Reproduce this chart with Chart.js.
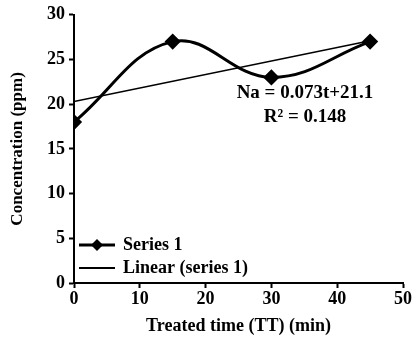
<!DOCTYPE html>
<html>
<head>
<meta charset="utf-8">
<script src="https://cdn.jsdelivr.net/npm/chart.js@4"></script>
<style>
  html, body { margin: 0; padding: 0; background: #fff; }
  #wrap { width: 413px; height: 345px; }
</style>
</head>
<body>
<div id="wrap"><canvas id="chart" width="413" height="345"></canvas></div>
<script>
// data
var timeMin = [0, 15, 30, 45];
var concentration = [18, 27, 23, 27];
var trendTime = [0, 45];
var trendConc = [20.3, 27.1];
var xTicks = [0, 10, 20, 30, 40, 50];
var yTicks = [0, 5, 10, 15, 20, 25, 30];
var eqLines = ["Na = 0.073t+21.1", "R\u00b2 = 0.148"];
var legendLabels = ["Series 1", "Linear (series 1)"];

var serif = "'Liberation Serif', 'Times New Roman', serif";

function toPoints(xs, ys) {
  return xs.map(function (x, i) {
    return { x: x, y: ys[i] };
  });
}

// draws the equation and the legend inside the plot
var extras = {
  id: "extras",
  afterDraw: function (chart) {
    var ctx = chart.ctx;
    var xs = chart.scales.x;
    ctx.save();
    ctx.fillStyle = "#000";
    ctx.font = "bold 19px " + serif;
    ctx.textAlign = "center";
    ctx.textBaseline = "middle";
    ctx.fillText(eqLines[0], 305, 93);
    ctx.fillText(eqLines[1], 305, 117);

    // legend
    var lx0 = xs.left + 5, lx1 = xs.left + 41;
    var ly = [245, 268];
    ctx.strokeStyle = "#000";
    ctx.lineWidth = 3;
    ctx.beginPath();
    ctx.moveTo(lx0, ly[0]);
    ctx.lineTo(lx1, ly[0]);
    ctx.stroke();
    var cx = (lx0 + lx1) / 2;
    ctx.beginPath();
    ctx.moveTo(cx, ly[0] - 6);
    ctx.lineTo(cx + 6, ly[0]);
    ctx.lineTo(cx, ly[0] + 6);
    ctx.lineTo(cx - 6, ly[0]);
    ctx.closePath();
    ctx.fill();
    ctx.lineWidth = 2;
    ctx.beginPath();
    ctx.moveTo(lx0, ly[1]);
    ctx.lineTo(lx1, ly[1]);
    ctx.stroke();
    ctx.font = "bold 18px " + serif;
    ctx.textAlign = "left";
    ctx.fillText(legendLabels[0], lx1 + 8, ly[0]);
    ctx.fillText(legendLabels[1], lx1 + 8, ly[1]);
    ctx.restore();
  },
};

var ctx = document.getElementById("chart").getContext("2d");
var chart = new Chart(ctx, {
  type: "scatter",
  data: {
    datasets: [
      {
        label: legendLabels[0],
        data: toPoints(timeMin, concentration),
        showLine: true,
        borderColor: "#000",
        backgroundColor: "#000",
        borderWidth: 3,
        tension: 0.4,
        pointStyle: "rectRot",
        pointRadius: 6,
        pointHoverRadius: 6,
      },
      {
        label: legendLabels[1],
        data: toPoints(trendTime, trendConc),
        showLine: true,
        borderColor: "#000",
        borderWidth: 1.5,
        pointRadius: 0,
        tension: 0,
      },
    ],
  },
  options: {
    responsive: false,
    animation: false,
    events: [],
    layout: { padding: { left: 0, right: 8, top: 13, bottom: 0 } },
    plugins: {
      legend: { display: false },
      tooltip: { enabled: false },
    },
    scales: {
      x: {
        type: "linear",
        min: 0,
        max: 50,
        afterBuildTicks: function (scale) {
          scale.ticks = xTicks.map(function (v) { return { value: v }; });
        },
        afterFit: function (scale) {
          scale.height = 62;
        },
        grid: {
          drawOnChartArea: false,
          drawTicks: true,
          tickLength: 5,
          tickWidth: 2,
          color: "#000",
        },
        border: { color: "#000", width: 2 },
        ticks: {
          color: "#000",
          padding: 1,
          maxRotation: 0,
          font: { family: serif, size: 18, weight: "bold" },
        },
        title: {
          display: true,
          text: "Treated time (TT) (min)",
          color: "#000",
          padding: 8,
          font: { family: serif, size: 18, weight: "bold" },
        },
      },
      y: {
        min: 0,
        max: 30,
        afterBuildTicks: function (scale) {
          scale.ticks = yTicks.map(function (v) { return { value: v }; });
        },
        afterFit: function (scale) {
          scale.width = 74;
        },
        grid: {
          drawOnChartArea: false,
          drawTicks: true,
          tickLength: 5,
          tickWidth: 2,
          color: "#000",
        },
        border: { color: "#000", width: 2 },
        ticks: {
          color: "#000",
          padding: 4,
          font: { family: serif, size: 18, weight: "bold" },
        },
        title: {
          display: true,
          text: "Concentration (ppm)",
          color: "#000",
          padding: 7,
          font: { family: serif, size: 17, weight: "bold" },
        },
      },
    },
  },
  plugins: [extras],
});
</script>
</body>
</html>
